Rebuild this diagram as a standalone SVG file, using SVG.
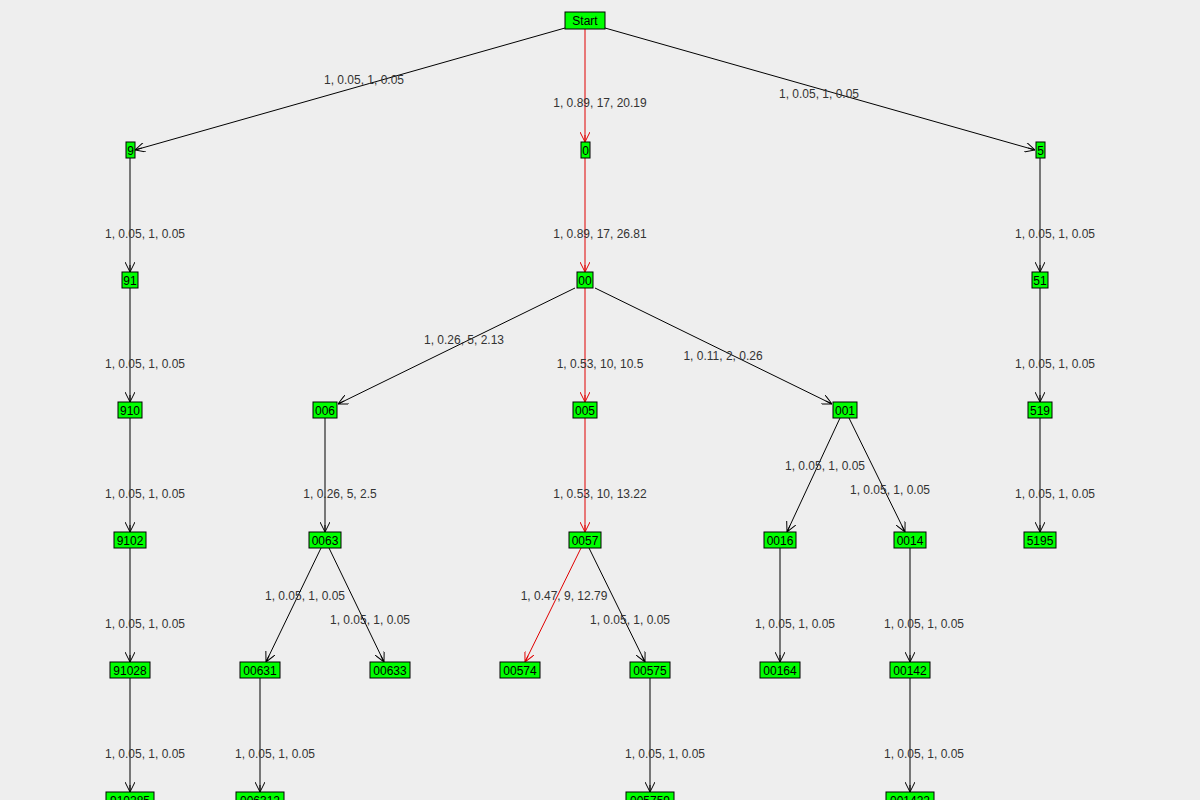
<svg xmlns="http://www.w3.org/2000/svg" width="1200" height="800" viewBox="0 0 1200 800">
<style>
.n rect{fill:#00ff00;stroke:#000;stroke-width:1}
.n text{font-family:"Liberation Sans",Arial,sans-serif;font-size:12px;fill:#000;text-anchor:middle}
.e{stroke:#000;stroke-width:1;fill:none;marker-end:url(#a)}
.r{stroke:#e00000;marker-end:url(#ar)}
.l{font-family:"Liberation Sans",Arial,sans-serif;font-size:12px;fill:#333;text-anchor:middle}
</style>
<defs>
<marker id="a" viewBox="0 0 10 10" refX="10" refY="5" markerWidth="10" markerHeight="10" markerUnits="userSpaceOnUse" orient="auto"><path d="M0,0 L10,5 L0,10 M10,5 L3,5" fill="none" stroke="#000"/></marker>
<marker id="ar" viewBox="0 0 10 10" refX="10" refY="5" markerWidth="10" markerHeight="10" markerUnits="userSpaceOnUse" orient="auto"><path d="M0,0 L10,5 L0,10 M10,5 L3,5" fill="none" stroke="#e00000"/></marker>
</defs>
<rect width="1200" height="800" fill="#eeeeee"/>
<g id="connectors">
<line class="e" x1="565" y1="28" x2="135" y2="150"/>
<line class="e r" x1="585" y1="28" x2="585" y2="142"/>
<line class="e" x1="605" y1="28" x2="1035" y2="150"/>
<line class="e" x1="130" y1="158" x2="130" y2="272"/>
<line class="e r" x1="585" y1="158" x2="585" y2="272"/>
<line class="e" x1="1040" y1="158" x2="1040" y2="272"/>
<line class="e" x1="130" y1="288" x2="130" y2="402"/>
<line class="e" x1="575" y1="288" x2="338" y2="404"/>
<line class="e r" x1="585" y1="288" x2="585" y2="402"/>
<line class="e" x1="595" y1="288" x2="832" y2="404"/>
<line class="e" x1="1040" y1="288" x2="1040" y2="402"/>
<line class="e" x1="130" y1="418" x2="130" y2="532"/>
<line class="e" x1="325" y1="418" x2="325" y2="532"/>
<line class="e r" x1="585" y1="418" x2="585" y2="532"/>
<line class="e" x1="840" y1="418" x2="787" y2="532"/>
<line class="e" x1="849" y1="418" x2="905" y2="532"/>
<line class="e" x1="1040" y1="418" x2="1040" y2="532"/>
<line class="e" x1="130" y1="548" x2="130" y2="662"/>
<line class="e" x1="321" y1="548" x2="266" y2="662"/>
<line class="e" x1="329" y1="548" x2="384" y2="662"/>
<line class="e r" x1="581" y1="548" x2="525" y2="662"/>
<line class="e" x1="589" y1="548" x2="645" y2="662"/>
<line class="e" x1="780" y1="548" x2="780" y2="662"/>
<line class="e" x1="910" y1="548" x2="910" y2="662"/>
<line class="e" x1="130" y1="678" x2="130" y2="792"/>
<line class="e" x1="260" y1="678" x2="260" y2="792"/>
<line class="e" x1="650" y1="678" x2="650" y2="792"/>
<line class="e" x1="910" y1="678" x2="910" y2="792"/>
<text class="l" x="364" y="84">1, 0.05, 1, 0.05</text>
<text class="l" x="600" y="107">1, 0.89, 17, 20.19</text>
<text class="l" x="819" y="98">1, 0.05, 1, 0.05</text>
<text class="l" x="145" y="238">1, 0.05, 1, 0.05</text>
<text class="l" x="600" y="238">1, 0.89, 17, 26.81</text>
<text class="l" x="1055" y="238">1, 0.05, 1, 0.05</text>
<text class="l" x="145" y="368">1, 0.05, 1, 0.05</text>
<text class="l" x="464" y="344">1, 0.26, 5, 2.13</text>
<text class="l" x="600" y="368">1, 0.53, 10, 10.5</text>
<text class="l" x="723" y="360">1, 0.11, 2, 0.26</text>
<text class="l" x="1055" y="368">1, 0.05, 1, 0.05</text>
<text class="l" x="145" y="498">1, 0.05, 1, 0.05</text>
<text class="l" x="340" y="498">1, 0.26, 5, 2.5</text>
<text class="l" x="600" y="498">1, 0.53, 10, 13.22</text>
<text class="l" x="825" y="470">1, 0.05, 1, 0.05</text>
<text class="l" x="890" y="494">1, 0.05, 1, 0.05</text>
<text class="l" x="1055" y="498">1, 0.05, 1, 0.05</text>
<text class="l" x="145" y="628">1, 0.05, 1, 0.05</text>
<text class="l" x="305" y="600">1, 0.05, 1, 0.05</text>
<text class="l" x="370" y="624">1, 0.05, 1, 0.05</text>
<text class="l" x="564" y="600">1, 0.47, 9, 12.79</text>
<text class="l" x="630" y="624">1, 0.05, 1, 0.05</text>
<text class="l" x="795" y="628">1, 0.05, 1, 0.05</text>
<text class="l" x="924" y="628">1, 0.05, 1, 0.05</text>
<text class="l" x="145" y="758">1, 0.05, 1, 0.05</text>
<text class="l" x="275" y="758">1, 0.05, 1, 0.05</text>
<text class="l" x="665" y="758">1, 0.05, 1, 0.05</text>
<text class="l" x="924" y="758">1, 0.05, 1, 0.05</text>
</g>
<g id="n-start" class="n"><rect x="565" y="12" width="40" height="17"/><text x="585" y="25">Start</text></g>
<g id="n-9" class="n"><rect x="126" y="142" width="9" height="16"/><text x="130.5" y="155">9</text></g>
<g id="n-0" class="n"><rect x="581" y="142" width="9" height="16"/><text x="585.5" y="155">0</text></g>
<g id="n-5" class="n"><rect x="1036" y="142" width="9" height="16"/><text x="1040.5" y="155">5</text></g>
<g id="n-91" class="n"><rect x="122" y="272" width="16" height="16"/><text x="130" y="285">91</text></g>
<g id="n-00" class="n"><rect x="577" y="272" width="16" height="16"/><text x="585" y="285">00</text></g>
<g id="n-51" class="n"><rect x="1032" y="272" width="16" height="16"/><text x="1040" y="285">51</text></g>
<g id="n-910" class="n"><rect x="118" y="402" width="24" height="16"/><text x="130" y="415">910</text></g>
<g id="n-006" class="n"><rect x="313" y="402" width="24" height="16"/><text x="325" y="415">006</text></g>
<g id="n-005" class="n"><rect x="573" y="402" width="24" height="16"/><text x="585" y="415">005</text></g>
<g id="n-001" class="n"><rect x="833" y="402" width="24" height="16"/><text x="845" y="415">001</text></g>
<g id="n-519" class="n"><rect x="1028" y="402" width="24" height="16"/><text x="1040" y="415">519</text></g>
<g id="n-9102" class="n"><rect x="114" y="532" width="32" height="16"/><text x="130" y="545">9102</text></g>
<g id="n-0063" class="n"><rect x="309" y="532" width="32" height="16"/><text x="325" y="545">0063</text></g>
<g id="n-0057" class="n"><rect x="569" y="532" width="32" height="16"/><text x="585" y="545">0057</text></g>
<g id="n-0016" class="n"><rect x="764" y="532" width="32" height="16"/><text x="780" y="545">0016</text></g>
<g id="n-0014" class="n"><rect x="894" y="532" width="32" height="16"/><text x="910" y="545">0014</text></g>
<g id="n-5195" class="n"><rect x="1024" y="532" width="32" height="16"/><text x="1040" y="545">5195</text></g>
<g id="n-91028" class="n"><rect x="110" y="662" width="40" height="16"/><text x="130" y="675">91028</text></g>
<g id="n-00631" class="n"><rect x="240" y="662" width="40" height="16"/><text x="260" y="675">00631</text></g>
<g id="n-00633" class="n"><rect x="370" y="662" width="40" height="16"/><text x="390" y="675">00633</text></g>
<g id="n-00574" class="n"><rect x="500" y="662" width="40" height="16"/><text x="520" y="675">00574</text></g>
<g id="n-00575" class="n"><rect x="630" y="662" width="40" height="16"/><text x="650" y="675">00575</text></g>
<g id="n-00164" class="n"><rect x="760" y="662" width="40" height="16"/><text x="780" y="675">00164</text></g>
<g id="n-00142" class="n"><rect x="890" y="662" width="40" height="16"/><text x="910" y="675">00142</text></g>
<g id="n-910285" class="n"><rect x="106" y="792" width="48" height="16"/><text x="130" y="805">910285</text></g>
<g id="n-006312" class="n"><rect x="236" y="792" width="48" height="16"/><text x="260" y="805">006312</text></g>
<g id="n-005759" class="n"><rect x="626" y="792" width="48" height="16"/><text x="650" y="805">005759</text></g>
<g id="n-001422" class="n"><rect x="886" y="792" width="48" height="16"/><text x="910" y="805">001422</text></g>
</svg>
